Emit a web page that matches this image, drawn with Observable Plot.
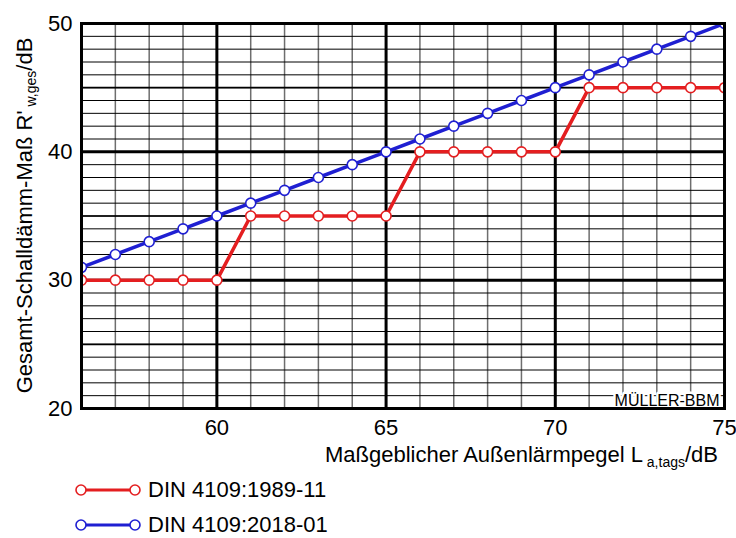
<!DOCTYPE html>
<html><head><meta charset="utf-8">
<script src="https://cdn.jsdelivr.net/npm/d3@7"></script>
<script src="https://cdn.jsdelivr.net/npm/@observablehq/plot@0.6"></script>
<style>
html,body{margin:0;padding:0;background:#fff;overflow:hidden;font-family:"Liberation Sans",Arial,sans-serif;}
#legend .row{display:flex;align-items:center;height:40px;}
#legend .row + .row{height:30px;}
#legend span{font-size:22px;color:#000;line-height:20px;}
</style></head><body>
<div id="chart"></div>
<div id="legend"></div>
<script>
// ---- data ----
const levels   = [56,57,58,59,60,61,62,63,64,65,66,67,68,69,70,71,72,73,74,75];
const din1989  = [30,30,30,30,30,35,35,35,35,35,40,40,40,40,40,45,45,45,45,45];
const din2018  = [31,32,33,34,35,36,37,38,39,40,41,42,43,44,45,46,47,48,49,50];
const seriesNames  = ["DIN 4109:1989-11","DIN 4109:2018-01"];
const seriesColors = ["#e41e20","#1f1fd2"];
const xTickLabels = [60,65,70,75];
const yTickLabels = [20,30,40,50];
const xGridMinor  = [56,57,58,59,60,61,62,63,64,65,66,67,68,69,70,71,72,73,74,75];
const xGridMajor  = [60,65,70];
const yGridMinor  = [20,21,22,23,24,25,26,27,28,29,30,31,32,33,34,35,36,37,38,39,40,41,42,43,44,45,46,47,48,49,50];
const yGridMedium = [25,35,45];
const yGridMajor  = [30,40];

const data = [];
levels.forEach((x,i)=>{
  data.push({x, y: din1989[i], s: seriesNames[0]});
});
levels.forEach((x,i)=>{
  data.push({x, y: din2018[i], s: seriesNames[1]});
});

const W = 736, H = 470, mL = 81, mR = 12, mT = 23, mB = 62;
const plot = Plot.plot({
  width: W, height: H, marginLeft: mL, marginRight: mR, marginTop: mT, marginBottom: mB,
  style: {fontFamily: "Liberation Sans, Arial, sans-serif", fontSize: "22px", color: "black", background: "white"},
  x: {domain: [56,75], ticks: xTickLabels, tickSize: 0, tickPadding: 11, label: null},
  y: {domain: [20,50], ticks: yTickLabels, tickSize: 0, tickPadding: 9, label: null},
  color: {domain: seriesNames, range: seriesColors},
  marks: [
    Plot.ruleX(xGridMinor, {stroke: "#6e6e6e", strokeWidth: 1.5}),
    Plot.ruleY(yGridMinor, {stroke: "black", strokeWidth: 1}),
    Plot.ruleY(yGridMedium, {stroke: "black", strokeWidth: 1.6}),
    Plot.ruleY(yGridMajor, {stroke: "black", strokeWidth: 3}),
    Plot.ruleX(xGridMajor, {stroke: "black", strokeWidth: 3}),
    Plot.line(data, {x: "x", y: "y", z: "s", stroke: "s", strokeWidth: 3.5, clip: true}),
    Plot.dot(data, {x: "x", y: "y", stroke: "s", fill: "white", r: 5, strokeWidth: 1.6, clip: true}),
    Plot.text(["MÜLLER-BBM"], {frameAnchor: "bottom-right", dx: -5, dy: -3, fontSize: 16, fill: "black",
      stroke: "white", strokeWidth: 5, paintOrder: "stroke", textAnchor: "end", lineAnchor: "bottom"}),
    Plot.frame({stroke: "black", strokeWidth: 3})
  ]
});
document.getElementById("chart").appendChild(plot);

// axis labels with subscripts
const svg = d3.select(plot);
const xl = svg.append("text").attr("x", W - mR - 6).attr("y", H - 8)
  .attr("text-anchor", "end").attr("font-size", 22).attr("fill", "black");
xl.append("tspan").text("Maßgeblicher Außenlärmpegel L");
xl.append("tspan").attr("font-size", 14).attr("dy", 5).text(" a,tags");
xl.append("tspan").attr("dy", -5).text("/dB");

const yl = svg.append("text")
  .attr("transform", `translate(32,${(mT + H - mB) / 2}) rotate(-90)`)
  .attr("text-anchor", "middle").attr("font-size", 22).attr("fill", "black");
yl.append("tspan").text("Gesamt-Schalldämm-Maß R'");
yl.append("tspan").attr("font-size", 14).attr("dy", 4).text(" w,ges");
yl.append("tspan").attr("dy", -4).text("/dB");

// legend
const legend = d3.select("#legend");
seriesNames.forEach((name, i) => {
  const row = legend.append("div").attr("class", "row");
  const s = row.append("svg").attr("width", 70).attr("height", 20).style("margin-left", "74px");
  s.append("line").attr("x1", 7).attr("x2", 61).attr("y1", 10).attr("y2", 10)
    .attr("stroke", seriesColors[i]).attr("stroke-width", 3);
  [7, 61].forEach(cx => s.append("circle").attr("cx", cx).attr("cy", 10).attr("r", 5)
    .attr("fill", "white").attr("stroke", seriesColors[i]).attr("stroke-width", 1.6));
  row.append("span").text(name).style("margin-left", "4px");
});
</script>
</body></html>
